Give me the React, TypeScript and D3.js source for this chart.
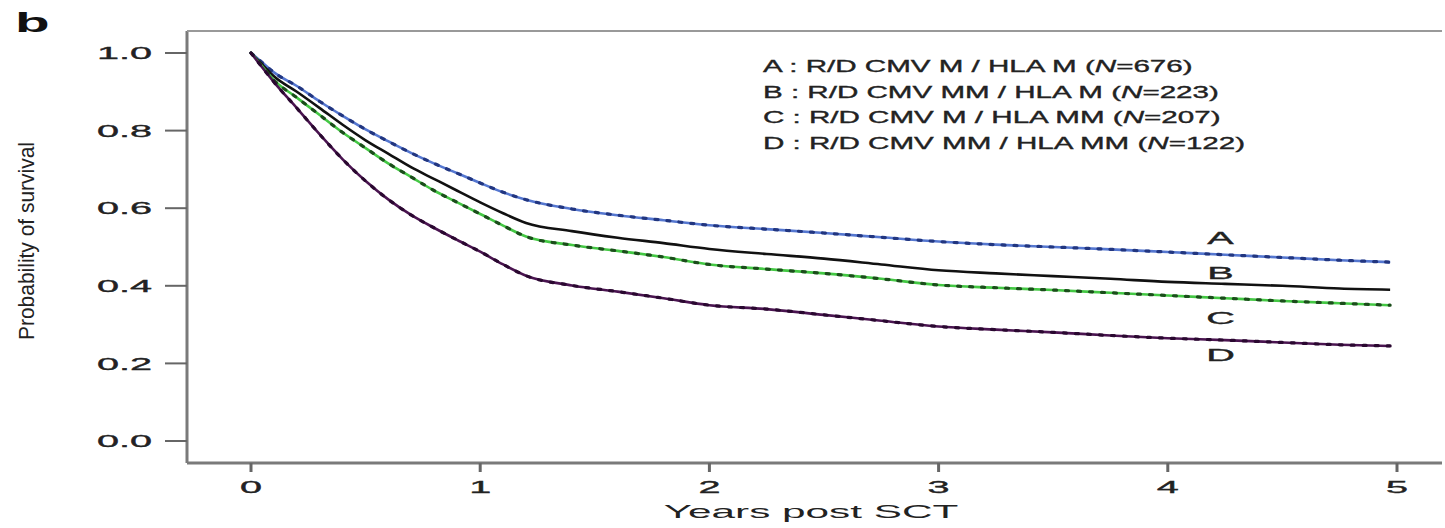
import React from 'react'
import * as d3 from 'd3'

// survival curves (years post SCT -> probability)
const times = [0, 0.05, 0.1, 0.2, 0.3, 0.4, 0.5, 0.6, 0.7, 0.8, 0.9, 1.0, 1.1, 1.2, 1.4, 1.6, 1.8, 2.0, 2.25, 2.5, 2.75, 3.0, 3.25, 3.5, 3.75, 4.0, 4.25, 4.5, 4.75, 4.97]
const survA = [1.0, 0.975, 0.95, 0.915, 0.875, 0.838, 0.803, 0.772, 0.742, 0.715, 0.69, 0.665, 0.641, 0.622, 0.598, 0.582, 0.569, 0.556, 0.546, 0.536, 0.525, 0.514, 0.506, 0.5, 0.494, 0.487, 0.48, 0.473, 0.466, 0.461]
const survB = [1.0, 0.97, 0.94, 0.9, 0.858, 0.815, 0.775, 0.74, 0.705, 0.675, 0.645, 0.615, 0.587, 0.562, 0.541, 0.524, 0.51, 0.495, 0.482, 0.47, 0.455, 0.44, 0.432, 0.425, 0.418, 0.41, 0.405, 0.4, 0.393, 0.39]
const survC = [1.0, 0.965, 0.93, 0.885, 0.84, 0.795, 0.755, 0.715, 0.68, 0.645, 0.615, 0.585, 0.555, 0.527, 0.505, 0.49, 0.474, 0.455, 0.443, 0.432, 0.418, 0.402, 0.395, 0.389, 0.382, 0.375, 0.368, 0.361, 0.355, 0.35]
const survD = [1.0, 0.962, 0.925, 0.858, 0.79, 0.726, 0.67, 0.622, 0.582, 0.549, 0.518, 0.488, 0.455, 0.426, 0.401, 0.385, 0.368, 0.35, 0.34, 0.325, 0.31, 0.295, 0.287, 0.28, 0.272, 0.265, 0.26, 0.254, 0.248, 0.245]

const groups = ['A', 'B', 'C', 'D']
const legendText = [
  ['A : R/D CMV M / HLA M (', '=676)'],
  ['B : R/D CMV MM / HLA M (', '=223)'],
  ['C : R/D CMV M / HLA MM (', '=207)'],
  ['D : R/D CMV MM / HLA MM (', '=122)'],
]
const labelTime = [4.23, 4.23, 4.23, 4.23]
const labelValue = [0.523, 0.433, 0.318, 0.222]

const yTicks = [0, 0.2, 0.4, 0.6, 0.8, 1.0]
const xTicks = [0, 1, 2, 3, 4, 5]

const series = [survA, survB, survC, survD]
const baseColor = ['#5577d0', '#111111', '#44c844', '#4a1450']
const dotColor = ['#223680', '#111111', '#1b4d1b', '#2a0830']

const FONT = '"Liberation Sans", Arial, Helvetica, sans-serif'

export default function App() {
  const W = 1445
  const H = 528
  const plotLeft = 187
  const plotTop = 31
  const plotBottom = 463
  const plotRight = 1442

  const x = d3.scaleLinear().domain([0, 5]).range([251, 1397])
  const y = d3.scaleLinear().domain([0, 1]).range([441, 53])

  const line = d3.line<number>()
    .x((_, i) => x(times[i]))
    .y(d => y(d))
    .curve(d3.curveMonotoneX)

  // text in the figure is stretched horizontally
  const SX = 2.33
  const txt = { fontFamily: FONT, fill: '#222', stroke: '#222', strokeWidth: 0.35 }

  return (
    <svg width={W} height={H} style={{ position: 'absolute', left: 0, top: 0, background: '#fff' }}>
      {/* panel letter */}
      <text transform={`translate(15,32) scale(2.1,1)`} fontFamily={FONT} fontWeight="bold" fontSize={27} fill="#111">b</text>

      {/* frame */}
      <g stroke="#7a7a7a" strokeWidth={3} fill="none">
        <line x1={plotLeft} x2={plotLeft} y1={plotTop} y2={plotBottom} />
        <line x1={plotLeft} x2={plotRight} y1={plotTop} y2={plotTop} strokeWidth={2} stroke="#999" />
        <line x1={plotLeft} x2={plotRight} y1={plotBottom} y2={plotBottom} />
      </g>

      {/* y axis */}
      {yTicks.map(t => (
        <g key={t}>
          <line x1={165} x2={plotLeft} y1={y(t)} y2={y(t)} stroke="#666" strokeWidth={2} />
          <text transform={`translate(152,${y(t)}) scale(${SX},1)`} dy="0.36em" textAnchor="end"
            fontSize={17} {...txt}>{t.toFixed(1)}</text>
        </g>
      ))}
      <text transform={`translate(26,241) rotate(-90) scale(1,1.2)`} dy="0.35em" textAnchor="middle"
        fontFamily={FONT} fontSize={19} fill="#222" textLength={198} lengthAdjust="spacingAndGlyphs">Probability of survival</text>

      {/* x axis */}
      {xTicks.map(t => (
        <g key={t}>
          <line x1={x(t)} x2={x(t)} y1={plotBottom} y2={plotBottom + 9} stroke="#666" strokeWidth={3} />
          <text transform={`translate(${x(t)},${plotBottom + 24}) scale(${SX},1)`} dy="0.36em" textAnchor="middle"
            fontSize={17} {...txt}>{t}</text>
        </g>
      ))}
      <text transform={`translate(811,512) scale(2.35,1)`} dy="0.36em" textAnchor="middle"
        fontFamily={FONT} fontSize={18} fill="#222">Years post SCT</text>

      {/* curves */}
      {series.map((s, i) => (
        <g key={groups[i]}>
          <path d={line(s) || ''} fill="none" stroke={baseColor[i]} strokeWidth={2.6} />
          {i !== 1 && (
            <path d={line(s) || ''} fill="none" stroke={dotColor[i]} strokeWidth={3.2}
              strokeDasharray="3,9" strokeLinecap="round" />
          )}
        </g>
      ))}

      {/* curve labels */}
      {groups.map((g, i) => (
        <text key={g} transform={`translate(${x(labelTime[i])},${y(labelValue[i])}) scale(${SX},1)`} dy="0.36em"
          textAnchor="middle" fontSize={17} {...txt}>{g}</text>
      ))}

      {/* legend */}
      {legendText.map((parts, i) => (
        <text key={i} transform={`translate(763,${66 + i * 25.5}) scale(1.74,1)`} dy="0.36em"
          fontSize={17} {...txt}>
          {parts[0]}<tspan fontStyle="italic">N</tspan>{parts[1]}
        </text>
      ))}
    </svg>
  )
}
